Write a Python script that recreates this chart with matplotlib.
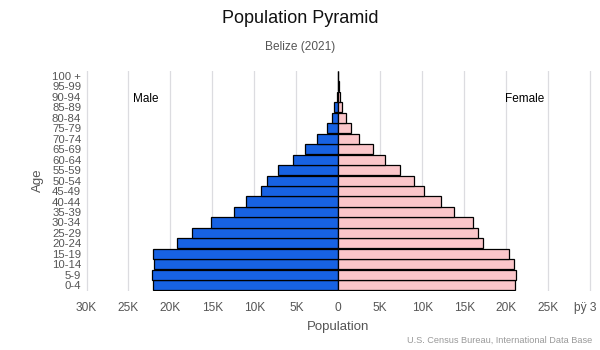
import matplotlib
matplotlib.use("Agg")
import matplotlib.pyplot as plt

plt.rcParams['font.family'] = ['Liberation Sans', 'DejaVu Sans']

# Age groups, youngest first (thousands of people)
age_groups = ["0-4", "5-9", "10-14", "15-19", "20-24", "25-29", "30-34", "35-39",
              "40-44", "45-49", "50-54", "55-59", "60-64", "65-69", "70-74",
              "75-79", "80-84", "85-89", "90-94", "95-99", "100 +"]
male = [22.1, 22.2, 21.9, 22.1, 19.2, 17.4, 15.2, 12.4, 11.0, 9.2, 8.5,
        7.2, 5.4, 4.0, 2.5, 1.4, 0.8, 0.45, 0.12, 0.04, 0.01]
female = [21.1, 21.2, 20.9, 20.3, 17.3, 16.7, 16.1, 13.8, 12.3, 10.2, 9.0,
          7.4, 5.6, 4.1, 2.5, 1.5, 0.9, 0.5, 0.2, 0.06, 0.02]

tick_values = [-30, -25, -20, -15, -10, -5, 0, 5, 10, 15, 20, 25, 30]
tick_labels = ["30K", "25K", "20K", "15K", "10K", "5K", "0",
               "5K", "10K", "15K", "20K", "25K", "þÿ 3 8"]

male_color = "#1762e3"
female_color = "#fbc6ca"
text_gray = "#555555"

fig = plt.figure(figsize=(6, 3.5), dpi=100)
ax = fig.add_axes([0.1400, 0.170, 0.8475, 0.628])

y = list(range(len(age_groups)))
ax.barh(y, [-v for v in male], height=0.97, color=male_color,
        edgecolor="black", linewidth=0.9, zorder=3)
ax.barh(y, female, height=0.97, color=female_color,
        edgecolor="black", linewidth=0.9, zorder=3)

ax.set_xlim(-30.3, 30.3)
ax.set_ylim(-0.5, 20.5)
ax.set_xticks(tick_values)
ax.set_xticklabels(tick_labels)
ax.set_yticks(y)
ax.set_yticklabels(age_groups)

ax.grid(axis="x", color="#dcdce0", linewidth=0.9, zorder=0)
ax.grid(axis="y", visible=False)
for s in ax.spines.values():
    s.set_visible(False)
ax.tick_params(axis="both", length=0, colors=text_gray, labelsize=8.6)
ax.tick_params(axis="y", labelsize=8.2, pad=2)
ax.tick_params(axis="x", pad=8)

ax.set_xlabel("Population", fontsize=9.5, color=text_gray, labelpad=5)
ax.set_ylabel("Age", fontsize=9.5, color=text_gray, labelpad=6)

ax.text(-24.5, 17.8, "Male", ha="left", va="center", fontsize=8.5, color="black")
ax.text(24.5, 17.8, "Female", ha="right", va="center", fontsize=8.5, color="black")

fig.text(0.5, 0.948, "Population Pyramid", ha="center", va="center",
         fontsize=13, color="#111111")
fig.text(0.5, 0.865, "Belize (2021)", ha="center", va="center",
         fontsize=8.6, color=text_gray)
fig.text(0.987, 0.027, "U.S. Census Bureau, International Data Base",
         ha="right", va="center", fontsize=6.6, color="#999999")

fig.savefig("out.png", dpi=100)
